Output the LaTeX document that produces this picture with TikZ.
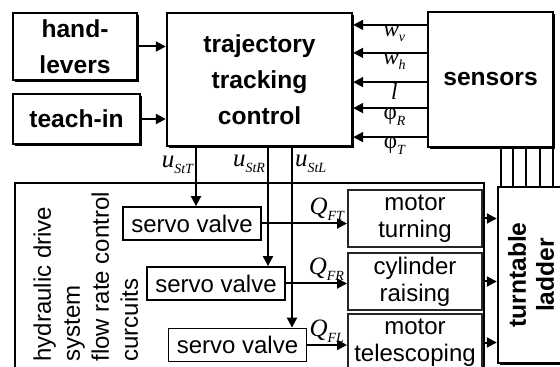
\documentclass[tikz,border=0pt]{standalone}
\usepackage{fontspec}
\setmainfont{Liberation Sans}
\newfontfamily\lblfont{Liberation Serif}
\usetikzlibrary{arrows.meta,shadows,positioning}

\newcommand{\sigl}[2]{{\lblfont\itshape #1}\raisebox{-0.45ex}{\lblfont\itshape\fontsize{7}{8}\selectfont #2}}

\begin{document}
\begin{tikzpicture}[x=0.5pt,y=-0.5pt,
    heavy/.style={draw, line width=1.2pt, fill=white, align=center, inner sep=0pt,
        font=\bfseries\fontsize{12.3}{18}\selectfont,
        drop shadow={shadow xshift=1pt, shadow yshift=-1pt, opacity=1, fill=black}},
    valve/.style={draw, line width=0.9pt, fill=white, inner sep=0pt,
        minimum width=69pt, minimum height=16.5pt, font=\fontsize{12}{14}\selectfont},
    drive/.style={draw=black!85, line width=1pt, fill=white, align=center, inner sep=0pt,
        minimum width=67pt, minimum height=28.5pt, font=\fontsize{12}{13.5}\selectfont},
    sig/.style={-{Triangle[length=5pt,width=5pt]}, line width=1pt},
    lbl/.style={font=\fontsize{12.5}{14}\selectfont, inner sep=1pt},
    sensorlbl/.style={font=\fontsize{11.5}{13}\selectfont, inner sep=0pt, text depth=0pt}]
    \useasboundingbox (0,0) rectangle (560,367);
    \clip (0,0) rectangle (560,367);
    % Hydraulic drive frame
    \draw[line width=0.6pt] (15,380) -- (15,183) -- (484,183) -- (484,380);
    \node[rotate=90, anchor=north west, align=left, inner sep=0pt,
        font=\fontsize{12}{14.5}\selectfont] (hyd) at (33,362)
        {hydraulic drive\\system\\flow rate control\\curcuits};
    % Upper blocks
    \node[heavy, minimum width=62pt, minimum height=33.5pt] (levers) at (75,46.5) {hand-\\levers};
    \node[heavy, minimum width=63.5pt, minimum height=25pt] (teach) at (76.5,119) {teach-in};
    \node[heavy, minimum width=92.5pt, minimum height=66.5pt] (traj) at (259.5,79.5) {trajectory\\tracking\\control};
    \node[heavy, minimum width=62.5pt, minimum height=67.5pt] (sens) at (490.5,79.5) {sensors};
    % Turntable ladder
    \node[heavy, minimum width=33pt, minimum height=88pt] (turn) at (531,275) {};
    \node[rotate=90, align=center, font=\bfseries\fontsize{12.3}{14}\selectfont] (turntxt) at (turn.center) {turntable\\ladder};
    % Servo valves and drives
    \node[valve] (sv1) at (192,223.5) {servo valve};
    \node[valve] (sv2) at (216,283.5) {servo valve};
    \node[valve] (sv3) at (237.5,345) {servo valve};
    \node[drive] (mt1) at (415,218.5) {motor\\turning};
    \node[drive] (mt2) at (415,281.5) {cylinder\\raising};
    \node[drive] (mt3) at (415,342.5) {motor\\telescoping};
    % Inputs
    \draw[sig] (levers.east) -- (levers.east -| traj.west);
    \draw[sig] (teach.east) -- (teach.east -| traj.west);
    % Measured signals
    \foreach \d/\lab [count=\i] in {27.3/{\sigl{w}{v}}, 13.3/{\sigl{w}{h}}, -1.3/{{\lblfont\itshape l}},
        -14.3/{\sigl{\upshape φ}{R}}, -28.8/{\sigl{\upshape φ}{T}}} {
        \coordinate (s\i) at ([yshift=\d pt]sens.west);
        \draw[sig] (s\i) -- (s\i -| traj.east) node[sensorlbl, pos=0.44, below] {\lab};
    }
    \foreach \x in {501,513,526,540,553}
        \draw[line width=1pt] (sens.south -| \x,0) -- (turn.north -| \x,0);
    % Control signals
    \coordinate (cT) at (196,0);
    \coordinate (cR) at (268,0);
    \coordinate (cL) at (292,0);
    \draw[sig] (traj.south -| cT) -- (sv1.north -| cT) node[lbl, pos=0.3, left] {\sigl{u}{StT}};
    \draw[sig] (traj.south -| cR) -- (sv2.north -| cR) node[lbl, pos=0.14, left] {\sigl{u}{StR}};
    \draw[sig] (traj.south -| cL) -- (sv3.north -| cL) node[lbl, pos=0.09, right] {\sigl{u}{StL}};
    % Flow rates
    \draw[sig] (sv1.east) -- (sv1.east -| mt1.west) node[lbl, above left] {\sigl{Q}{FT}};
    \draw[sig] (sv2.east) -- (sv2.east -| mt2.west) node[lbl, above left] {\sigl{Q}{FR}};
    \draw[sig] (sv3.east) -- (sv3.east -| mt3.west) node[lbl, above left] {\sigl{Q}{FL}};
    \foreach \m in {mt1,mt2,mt3}
        \draw[sig] (\m.east) -- (\m.east -| turn.west);
\end{tikzpicture}
\end{document}
